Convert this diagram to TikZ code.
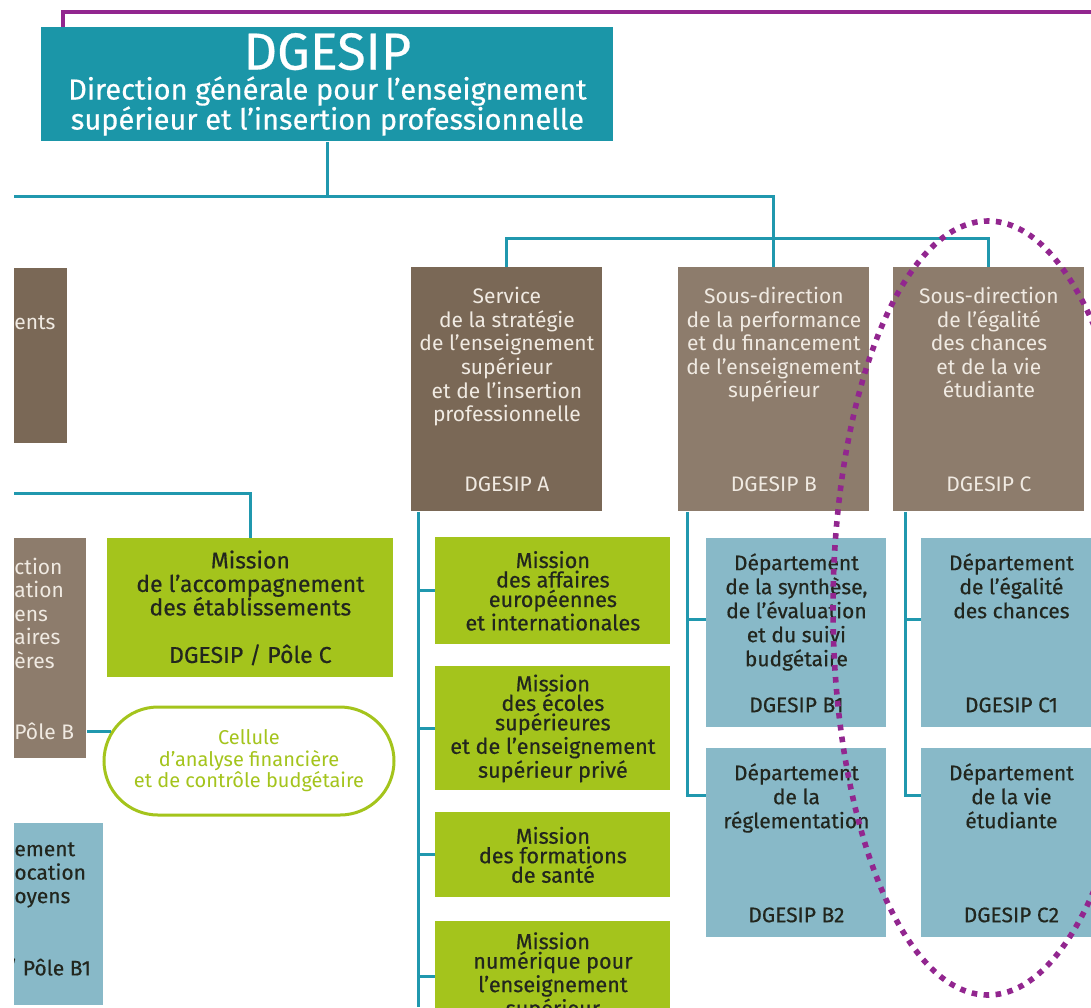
\documentclass[tikz,border=0pt]{standalone}
\usepackage{fontspec}
\setmainfont{Fira Sans}
\newfontfamily\medfont[FakeBold=0.5]{Fira Sans}
\usepackage{tikz}
\usetikzlibrary{calc, shapes.misc}

\definecolor{dgteal}{RGB}{27,150,168}
\definecolor{linkteal}{RGB}{32,152,174}
\definecolor{dgpurple}{RGB}{146,38,143}
\definecolor{browndark}{RGB}{122,104,86}
\definecolor{brownlight}{RGB}{141,124,108}
\definecolor{limegreen}{RGB}{164,196,28}
\definecolor{paleblue}{RGB}{136,185,200}
\definecolor{browntext}{RGB}{240,234,226}
\definecolor{darktext}{RGB}{34,38,30}

\begin{document}
\begin{tikzpicture}[
  x=0.5pt, y=-0.5pt,
  box/.style={rectangle, anchor=north west, inner sep=0pt, align=center},
  headbox/.style={box, fill=dgteal, text=white, minimum width=286pt,
                  minimum height=57pt, font=\medfont\fontsize{14.5}{15}\selectfont},
  sdbox/.style={box, fill=brownlight, text=browntext, minimum width=95.5pt,
                minimum height=122pt, font=\fontsize{10.5}{11.8}\selectfont},
  misbox/.style={box, fill=limegreen, text=darktext, minimum width=117.5pt,
                 font=\medfont\fontsize{10.8}{9.75}\selectfont},
  depbox/.style={box, fill=paleblue, text=darktext, minimum width=90pt,
                 minimum height=94.5pt, font=\medfont\fontsize{10.5}{12}\selectfont},
  frag/.style={anchor=west, inner sep=0pt, align=left,
               font=\fontsize{10.5}{11.75}\selectfont},
  link/.style={draw=linkteal, line width=1.5pt},
  purpleline/.style={draw=dgpurple, line width=2pt},
  dotring/.style={draw=dgpurple, line width=2.8pt, dash pattern=on 2.8pt off 3.2pt}
]
  \useasboundingbox (0,0) rectangle (1091,1007);
  \clip (14,0) rectangle (1091,1007);

  % head of the directorate
  \node[headbox] (dg) at (41,27)
    {{\fontsize{26}{22}\selectfont DGESIP}\\Direction générale pour l’enseignement\\supérieur et l’insertion professionnelle};

  % boxes cut by the left edge
  \node[box, fill=browndark, minimum width=33.5pt, minimum height=87.5pt] (cutTop) at (0,268) {};
  \node[frag, text=browntext] (cutTopTxt) at (14,323) {ents};
  \node[box, fill=brownlight, minimum width=43pt, minimum height=110pt] (poleB) at (0,538) {};
  \node[frag, text=browntext] (poleBTxt) at (14,613) {ction\\ation\\ens\\aires\\ères};
  \node[frag, text=browntext] (poleBCode) at (14,731) {Pôle B};
  \node[box, fill=paleblue, minimum width=51.5pt, minimum height=91pt] (poleB1) at (0,823) {};
  \node[frag, text=darktext, font=\medfont\fontsize{10.5}{11.75}\selectfont] (poleB1Txt) at (14,875) {ement\\ocation\\oyens};
  \node[frag, text=darktext, font=\medfont\fontsize{10.5}{11.75}\selectfont] (poleB1Code) at (6,968) {/ Pôle B1};

  \node[box, fill=limegreen, text=darktext, minimum width=143pt, minimum height=69.5pt,
        font=\medfont\fontsize{11.5}{11.75}\selectfont] (accomp) at (107,538)
    {Mission\\de l’accompagnement\\des établissements\\[12pt]DGESIP / Pôle C};
  \node[rounded rectangle, draw=limegreen, line width=1.5pt, fill=white,
        text=limegreen, minimum width=145pt, minimum height=54pt, inner sep=0pt, align=center,
        font=\fontsize{10}{10.75}\selectfont] (cellule) at (249,761)
    {Cellule\\d’analyse financière\\et de contrôle budgétaire};

  % sub-directorates
  \node[sdbox, fill=browndark] (sdA) at (411,267)
    {Service\\de la stratégie\\de l’enseignement\\supérieur\\et de l’insertion\\professionnelle\\[23pt]DGESIP A};
  \node[sdbox] (sdB) at (678,267)
    {Sous-direction\\de la performance\\et du financement\\de l’enseignement\\supérieur\\[35pt]DGESIP B};
  \node[sdbox] (sdC) at (893,267)
    {Sous-direction\\de l’égalité\\des chances\\et de la vie\\étudiante\\[35pt]DGESIP C};

  % missions
  \node[misbox, minimum height=53.5pt] (misAE) at (435,537)
    {Mission\\des affaires\\européennes\\et internationales};
  \node[misbox, minimum height=62pt] (misEC) at (435,666)
    {Mission\\des écoles\\supérieures\\et de l’enseignement\\supérieur privé};
  \node[misbox, minimum height=42.5pt] (misFS) at (435,812)
    {Mission\\des formations\\de santé};
  \node[misbox, minimum height=55pt] (misNum) at (435,921)
    {Mission\\numérique pour\\l’enseignement\\supérieur};

  % departments
  \node[depbox] (depB1) at (706,538)
    {Département\\de la synthèse,\\de l’évaluation\\et du suivi\\budgétaire\\[11pt]DGESIP B1};
  \node[depbox] (depB2) at (706,748)
    {Département\\de la\\réglementation\\[35pt]DGESIP B2};
  \node[depbox] (depC1) at (921,538)
    {Département\\de l’égalité\\des chances\\[35pt]DGESIP C1};
  \node[depbox] (depC2) at (921,748)
    {Département\\de la vie\\étudiante\\[35pt]DGESIP C2};

  % links
  \coordinate (busTop) at (0,196);
  \coordinate (busSub) at (0,238);
  \coordinate (busLeft) at (0,493);
  \coordinate (trunkA) at (418,1007);
  \coordinate (trunkB) at (687,0);
  \coordinate (trunkC) at (905,0);
  \coordinate (inB1) at ($(depB1.north west)!.43!(depB1.south west)$);
  \coordinate (inB2) at ($(depB2.north west)!.25!(depB2.south west)$);
  \coordinate (inC1) at ($(depC1.north west)!.43!(depC1.south west)$);
  \coordinate (inC2) at ($(depC2.north west)!.25!(depC2.south west)$);

  \draw[link] (dg.south) -- (dg.south |- busTop);
  \draw[link] (busTop) -- (sdB.north |- busTop) -- (sdB.north);
  \draw[link] (sdA.north) -- (sdA.north |- busSub) -- (sdC.north |- busSub) -- (sdC.north);
  \draw[link] (busLeft) -- (accomp.north |- busLeft) -- (accomp.north);
  \draw[link] (poleB.east |- cellule.168) -- (cellule.168);

  \draw[link] (trunkA |- sdA.south) -- (trunkA);
  \foreach \m in {misAE, misEC, misFS, misNum}
    \draw[link] (trunkA |- \m.west) -- (\m.west);
  \draw[link] (trunkB |- sdB.south) -- (trunkB |- inB2) -- (inB2);
  \draw[link] (trunkB |- inB1) -- (inB1);
  \draw[link] (trunkC |- sdC.south) -- (trunkC |- inC2) -- (inC2);
  \draw[link] (trunkC |- inC1) -- (inC1);

  % purple frame and ring
  \coordinate (pCorner) at (63,12);
  \coordinate (pEnd) at (1091,12);
  \draw[purpleline] (pCorner |- dg.north) -- (pCorner) -- (pEnd);
  \draw[dotring] (988,608) ellipse [x radius=77.5pt, y radius=193.5pt];
\end{tikzpicture}
\end{document}
